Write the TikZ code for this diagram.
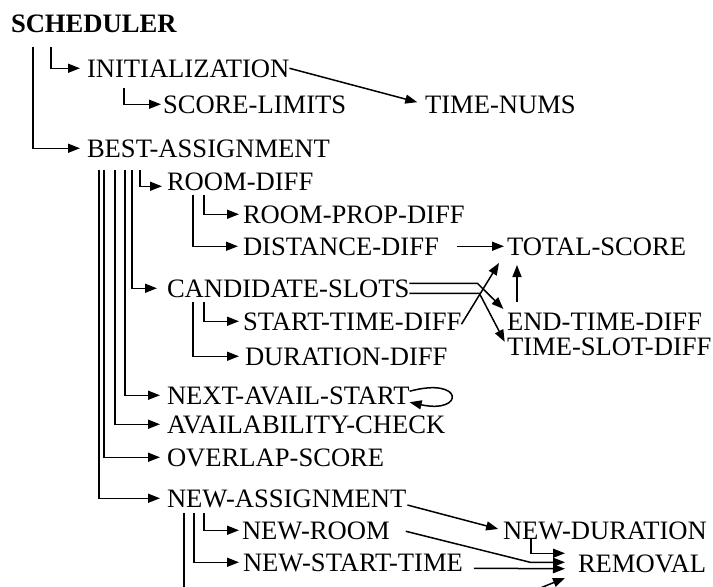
\documentclass[tikz,border=0pt]{standalone}
\usepackage{fontspec}
\setmainfont{Liberation Serif}
\usetikzlibrary{arrows.meta}
\begin{document}
\begin{tikzpicture}[x=1pt, y=-1pt, >={Triangle[length=12pt,width=9pt]},
    fn/.style={anchor=base west, inner sep=0pt, outer sep=0pt, text height=17.5pt, text depth=0pt, font=\fontsize{26.6}{30}\selectfont},
    link/.style={->, line width=1.5pt, shorten >=5pt}]
    \clip (0,0) rectangle (713,587);
    \fill[white] (0,0) rectangle (713,587);

    % Procedure names
    \node[fn, font=\fontsize{26.6}{30}\selectfont\bfseries] (sched) at (11,32) {SCHEDULER};
    \node[fn] (init) at (87,77) {INITIALIZATION};
    \node[fn] (scorelim) at (163,113) {SCORE-LIMITS};
    \node[fn] (timenums) at (425,113) {TIME-NUMS};
    \node[fn] (best) at (87,157) {BEST-ASSIGNMENT};
    \node[fn] (roomdiff) at (167,190) {ROOM-DIFF};
    \node[fn] (roomprop) at (243,223) {ROOM-PROP-DIFF};
    \node[fn] (distdiff) at (243,255) {DISTANCE-DIFF};
    \node[fn] (total) at (507,255) {TOTAL-SCORE};
    \node[fn] (cand) at (167,297) {CANDIDATE-SLOTS};
    \node[fn] (sttd) at (243,330) {START-TIME-DIFF};
    \node[fn] (etd) at (507,330) {END-TIME-DIFF};
    \node[fn] (durdiff) at (245,365) {DURATION-DIFF};
    \node[fn] (tsd) at (507,355) {TIME-SLOT-DIFF};
    \node[fn] (nas) at (167,404) {NEXT-AVAIL-START};
    \node[fn] (avail) at (167,433) {AVAILABILITY-CHECK};
    \node[fn] (overlap) at (167,466) {OVERLAP-SCORE};
    \node[fn] (nasg) at (167,507) {NEW-ASSIGNMENT};
    \node[fn] (nroom) at (242,539) {NEW-ROOM};
    \node[fn] (ndur) at (503,539) {NEW-DURATION};
    \node[fn] (nstart) at (243,571) {NEW-START-TIME};
    \node[fn] (removal) at (578,572) {REMOVAL};

    % Free ends below the picture
    \coordinate (cutA) at (184,600);
    \coordinate (cutB) at (523,595);

    % Calls of SCHEDULER and INITIALIZATION
    \draw[link, shorten >=7pt] ([shift={(40,15)}]sched.south west) |- (init.west);
    \draw[link, shorten >=7pt] ([shift={(22,15)}]sched.south west) |- (best.west);
    \draw[link, shorten >=2pt] ([shift={(37,11)}]init.south west) |- (scorelim.west);
    \draw[link, shorten >=8pt] (init.east) -- (timenums.west);

    % Calls of BEST-ASSIGNMENT
    \draw[link] ([shift={(53,13)}]best.south west) |- ([shift={(0,5)}]roomdiff.west);
    \draw[link, shorten >=10pt] ([shift={(45,13)}]best.south west) |- (cand.west);
    \draw[link, shorten >=7pt] ([shift={(38,13)}]best.south west) |- (nas.west);
    \draw[link, shorten >=7pt] ([shift={(28,13)}]best.south west) |- (avail.west);
    \draw[link, shorten >=7pt] ([shift={(17,13)}]best.south west) |- (overlap.west);
    \draw[link, shorten >=7pt] ([shift={(12,13)}]best.south west) |- (nasg.west);

    % ROOM-DIFF and CANDIDATE-SLOTS
    \draw[link, shorten >=4pt] ([shift={(37,5)}]roomdiff.south west) |- (roomprop.west);
    \draw[link] ([shift={(26,5)}]roomdiff.south west) |- (distdiff.west);
    \draw[link, shorten <=18pt, shorten >=3pt] (distdiff.east) -- (total.west);
    \draw[link, shorten >=4pt] ([shift={(37,5)}]cand.south west) |- (sttd.west);
    \draw[link, shorten >=6pt] ([shift={(26,5)}]cand.south west) |- (durdiff.west);
    \draw[link] ([shift={(0,-5)}]cand.east) -- ++(68,0) -- (etd.north west);
    \draw[link] ([shift={(0,5)}]cand.east) -- ++(70,0) -- (tsd.west);
    \draw[link, shorten >=0pt] ([shift={(0,3)}]sttd.east) -- ([shift={(-8,8)}]total.south west);
    \draw[link, shorten >=0pt] ([shift={(10,-11)}]etd.north west) -- ([shift={(10,10)}]total.south west);

    % Recursive call
    \draw[link, shorten >=0pt] ([shift={(0,-4)}]nas.east) .. controls +(55,-15) and +(55,12) .. ([shift={(0,7)}]nas.east);

    % Calls of NEW-ASSIGNMENT
    \draw[link, shorten >=3pt] ([shift={(37,6)}]nasg.south west) |- (nroom.west);
    \draw[link, shorten >=4pt] ([shift={(27,6)}]nasg.south west) |- (nstart.west);
    \draw[line width=1.5pt] ([shift={(17,6)}]nasg.south west) -- (cutA);
    \draw[link] ([shift={(1,-2)}]nasg.south east) -- (ndur.west);
    \draw[link, shorten >=0pt] ([shift={(28,0)}]ndur.south west) |- ([shift={(-13,-10)}]removal.west);
    \draw[link, shorten >=0pt] ([shift={(16,1)}]nroom.east) -- ([shift={(-48,-1)}]removal.west) -- ([shift={(-13,-1)}]removal.west);
    \draw[link, shorten >=0pt] ([shift={(11,6)}]nstart.east) -- ([shift={(-13,5.5)}]removal.west);
    \draw[link, shorten >=0pt] (cutB) -- ([shift={(-13,6)}]removal.south west);
\end{tikzpicture}
\end{document}
